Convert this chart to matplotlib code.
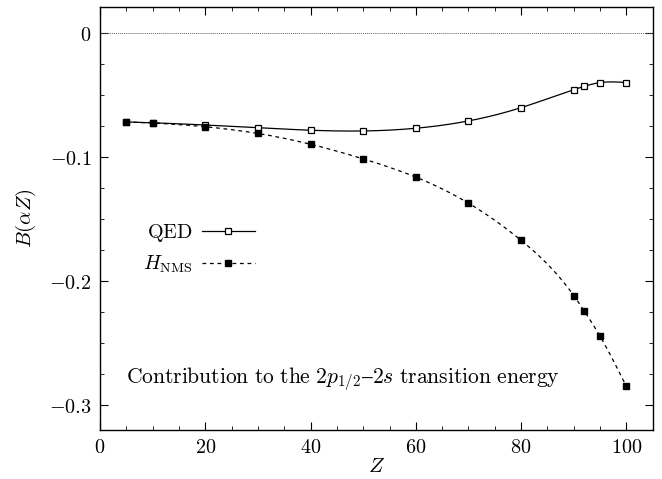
import numpy as np
import matplotlib

matplotlib.use("Agg")
import matplotlib.pyplot as plt
from matplotlib.ticker import MultipleLocator, FuncFormatter

plt.rcParams.update(
    {
        "mathtext.fontset": "cm",
        "font.family": "serif",
        "font.serif": ["DejaVu Serif"],
        "font.size": 12,
        "axes.linewidth": 1.0,
    }
)

# nuclear charge
Z = [5, 10, 20, 30, 40, 50, 60, 70, 80, 90, 92, 95, 100]
# QED result
B_qed = [-0.0715, -0.0722, -0.0740, -0.0762, -0.0782, -0.0788, -0.0766, -0.0707,
         -0.0600, -0.0455, -0.0428, -0.0398, -0.0398]
# H_NMS approximation
B_nms = [-0.0715, -0.0724, -0.0754, -0.0808, -0.0895, -0.1013, -0.1160, -0.1370,
         -0.1670, -0.2115, -0.2240, -0.2443, -0.2848]


def natural_spline(x, y, xs):
    x = np.asarray(x, float)
    y = np.asarray(y, float)
    n = len(x)
    h = np.diff(x)
    A = np.zeros((n, n))
    r = np.zeros(n)
    A[0, 0] = A[-1, -1] = 1.0
    for i in range(1, n - 1):
        A[i, i - 1] = h[i - 1]
        A[i, i] = 2 * (h[i - 1] + h[i])
        A[i, i + 1] = h[i]
        r[i] = 3 * ((y[i + 1] - y[i]) / h[i] - (y[i] - y[i - 1]) / h[i - 1])
    c = np.linalg.solve(A, r)
    b = (y[1:] - y[:-1]) / h - h * (2 * c[:-1] + c[1:]) / 3
    d = (c[1:] - c[:-1]) / (3 * h)
    k = np.clip(np.searchsorted(x, xs) - 1, 0, n - 2)
    t = xs - x[k]
    return y[k] + b[k] * t + c[k] * t ** 2 + d[k] * t ** 3


zs = np.linspace(Z[0], Z[-1], 400)

fig = plt.figure(figsize=(6.62, 4.79), dpi=100)
ax = fig.add_axes([0.151, 0.102, 0.835, 0.883])

ax.axhline(0, color="0.4", lw=0.7, ls=(0, (1, 1)))

ax.plot(zs, natural_spline(Z, B_qed, zs), color="black", lw=0.9)
ax.plot(Z, B_qed, ls="none", marker="s", ms=4.5, mfc="white", mec="black", mew=0.9)
ax.plot(zs, natural_spline(Z, B_nms, zs), color="black", lw=0.9, ls=(0, (3, 3)))
ax.plot(Z, B_nms, ls="none", marker="s", ms=5, mfc="black", mec="black")

# legend proxies
ax.plot([], [], color="black", lw=0.9, marker="s", ms=4.5, mfc="white", mec="black",
        mew=0.9, label=r"$\mathrm{QED}$")
ax.plot([], [], color="black", lw=0.9, ls=(0, (3, 3)), marker="s", ms=5, mfc="black",
        label=r"$H_{\rm NMS}$")
handles, labels = ax.get_legend_handles_labels()
ax.legend(handles, labels, loc="upper left", bbox_to_anchor=(0.045, 0.535),
          frameon=False, markerfirst=False, alignment="right", handlelength=2.6,
          fontsize=14.5, labelspacing=0.5, handletextpad=0.5)

ax.text(5, -0.282,
        r"$\mathrm{Contribution\ to\ the\ }2p_{1/2}\mathrm{–}2s\mathrm{\ transition\ energy}$",
        fontsize=15.5)

ax.set_xlim(0, 105)
ax.set_ylim(-0.32, 0.021)
ax.xaxis.set_major_locator(MultipleLocator(20))
ax.xaxis.set_minor_locator(MultipleLocator(5))
ax.yaxis.set_major_locator(MultipleLocator(0.1))
ax.yaxis.set_minor_locator(MultipleLocator(0.025))


def fmt(v, pos):
    if abs(v) < 1e-9:
        return "$0$"
    return "$%g$" % round(v, 3)


ax.xaxis.set_major_formatter(FuncFormatter(fmt))
ax.yaxis.set_major_formatter(FuncFormatter(fmt))
ax.tick_params(which="both", direction="in", top=True, right=True, labelsize=14.5)
ax.tick_params(which="major", length=6, width=0.8, pad=6)
ax.tick_params(which="minor", length=3, width=0.6)

ax.set_xlabel(r"$Z$", fontsize=15, labelpad=0)
ax.set_ylabel(r"$B(\alpha Z)$", fontsize=15, labelpad=8)

fig.savefig("out.png", dpi=100)
